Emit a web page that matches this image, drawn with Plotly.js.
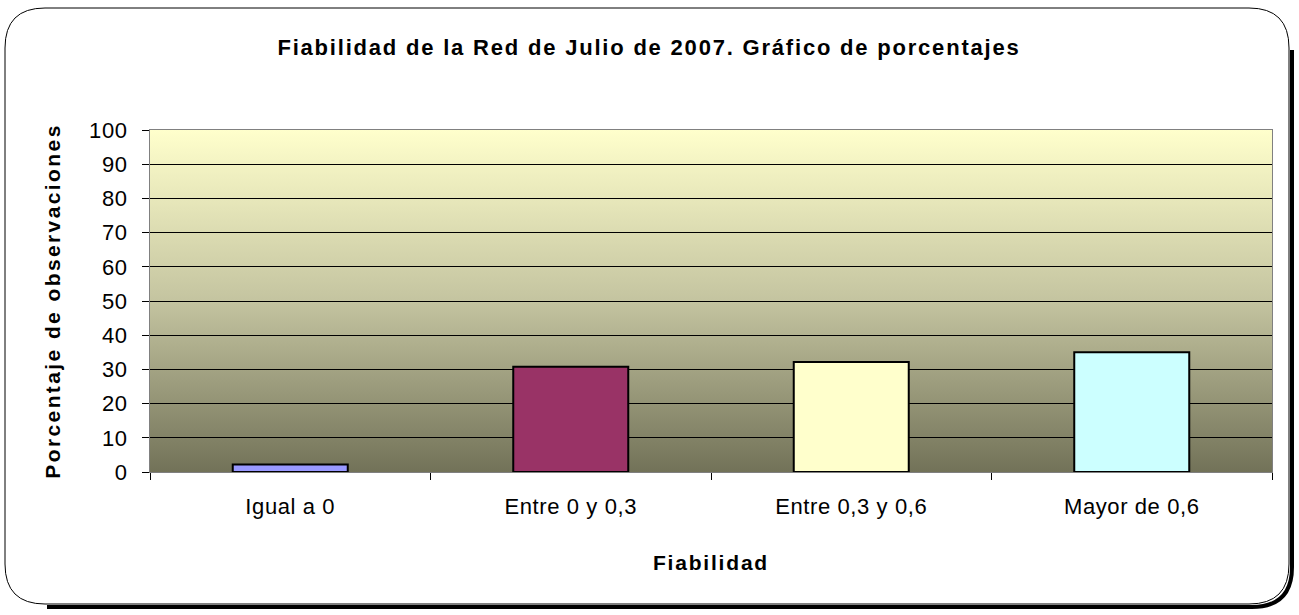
<!DOCTYPE html>
<html>
<head>
<meta charset="utf-8">
<script src="https://cdn.plot.ly/plotly-3.0.1.min.js"></script>
<style>
html,body{margin:0;padding:0;background:#fff;}
#chart{width:1299px;height:615px;}
#chart .xtick text, #chart .ytick text { letter-spacing: 0.6px; }
#chart .gtitle, #chart .xtitle { letter-spacing: 1.8px; }
#chart .ytitle { letter-spacing: 2.4px; }
</style>
</head>
<body>
<div id="chart"></div>
<script>
const categories = ["Igual a 0", "Entre 0 y 0,3", "Entre 0,3 y 0,6", "Mayor de 0,6"];
const values = [2.2, 30.8, 32.2, 35.0];
const barColors = ["#9999FF", "#993366", "#FFFFCC", "#CCFFFF"];
const yTicks = [0, 10, 20, 30, 40, 50, 60, 70, 80, 90, 100];

const W = 1299, H = 615;
const L = 150, R = 1272, T = 130, B = 472;
const pw = R - L, ph = B - T;
const px = x => (x - L) / pw;
const py = y => (B - y) / ph;

function roundRect(x0, y0, x1, y1, r) {
  const X0 = px(x0), X1 = px(x1), Y0 = py(y0), Y1 = py(y1);
  const rx = r / pw, ry = r / ph;
  return `M ${X0 + rx},${Y0} L ${X1 - rx},${Y0} Q ${X1},${Y0} ${X1},${Y0 - ry} L ${X1},${Y1 + ry} Q ${X1},${Y1} ${X1 - rx},${Y1} L ${X0 + rx},${Y1} Q ${X0},${Y1} ${X0},${Y1 + ry} L ${X0},${Y0 - ry} Q ${X0},${Y0} ${X0 + rx},${Y0} Z`;
}
function shadowPath(x0, y0, x1, y1, r) {
  const X0 = px(x0), X1 = px(x1), Y0 = py(y0), Y1 = py(y1);
  const rx = r / pw, ry = r / ph;
  return `M ${X1},${Y0 - ry} L ${X1},${Y1 + ry} Q ${X1},${Y1} ${X1 - rx},${Y1} L ${X0 + rx},${Y1}`;
}

const grad = 'data:image/svg+xml;utf8,' + encodeURIComponent(
  '<svg xmlns="http://www.w3.org/2000/svg" width="100" height="100" preserveAspectRatio="none">' +
  '<defs><linearGradient id="g" x1="0" y1="0" x2="0" y2="1">' +
  '<stop offset="0" stop-color="#FFFFCC"/><stop offset="0.5" stop-color="#C4C4A0"/><stop offset="1" stop-color="#727258"/>' +
  '</linearGradient></defs><rect width="100" height="100" fill="url(#g)"/></svg>');

const trace = {
  type: 'bar',
  x: categories,
  y: values,
  marker: { color: barColors, line: { color: '#000000', width: 2 } },
  width: 0.41,
  hoverinfo: 'x+y'
};

const FONT = 'Liberation Sans, Arial, sans-serif';
const layout = {
  width: W, height: H,
  margin: { l: L, r: W - R, t: T, b: H - B, pad: 0 },
  paper_bgcolor: '#ffffff',
  plot_bgcolor: 'rgba(0,0,0,0)',
  showlegend: false,
  font: { family: FONT, size: 21, color: '#000' },
  title: {
    text: '<b>Fiabilidad de la Red de Julio de 2007. Gráfico de porcentajes</b>',
    font: { size: 22, family: FONT, color: '#000' },
    x: 649 / W, xanchor: 'center', y: 1 - 47 / H, yanchor: 'middle', xref: 'container', yref: 'container'
  },
  xaxis: {
    type: 'category',
    tickson: 'boundaries',
    ticks: 'outside', ticklen: 7, tickcolor: '#000', tickwidth: 1,
    ticklabelstandoff: 15,
    showline: true, linecolor: '#808080', linewidth: 1, mirror: true,
    showgrid: false,
    tickfont: { size: 22 },
    title: { text: '<b>Fiabilidad</b>', font: { size: 21 }, standoff: 36 },
    automargin: false
  },
  yaxis: {
    range: [0, 100],
    tickvals: yTicks,
    ticks: 'outside', ticklen: 7, tickcolor: '#000', tickwidth: 1,
    ticklabelstandoff: 10,
    showline: true, linecolor: '#808080', linewidth: 1, mirror: true,
    showgrid: true, gridcolor: '#000000', gridwidth: 1,
    zeroline: false,
    tickfont: { size: 22 },
    title: { text: '<b>Porcentaje de observaciones</b>', font: { size: 21 }, standoff: 24 },
    automargin: false
  },
  images: [{
    source: grad, xref: 'paper', yref: 'paper', x: 0, y: 1, sizex: 1, sizey: 1,
    xanchor: 'left', yanchor: 'top', sizing: 'stretch', layer: 'below'
  }],
  shapes: [
    { type: 'path', xref: 'paper', yref: 'paper', layer: 'below', path: shadowPath(7, 10, 1292, 607, 40), line: { color: '#000', width: 4 } },
    { type: 'path', xref: 'paper', yref: 'paper', layer: 'below', path: roundRect(5, 8, 1289, 604, 40), line: { color: '#000', width: 1 } }
  ]
};

Plotly.newPlot('chart', [trace], layout, { displayModeBar: false, staticPlot: true });
</script>
</body>
</html>
